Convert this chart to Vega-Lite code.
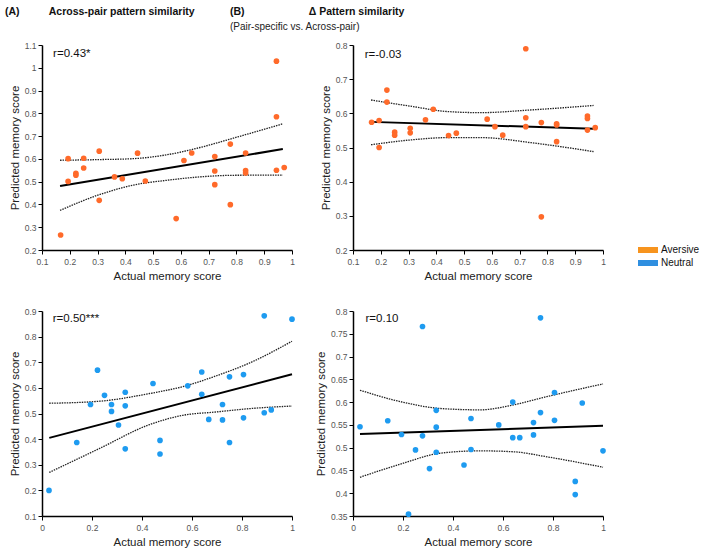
{
  "$schema": "https://vega.github.io/schema/vega-lite/v6.json",
  "padding": {"left": 5, "top": 6, "right": 5, "bottom": 5},
  "autosize": {"type": "pad"},
  "datasets": {
    "pts": [
      {"p":"A1","x":0.167,"y":0.266},{"p":"A1","x":0.194,"y":0.601},{"p":"A1","x":0.194,"y":0.501},{"p":"A1","x":0.222,"y":0.537},{"p":"A1","x":0.222,"y":0.528},{"p":"A1","x":0.25,"y":0.603},{"p":"A1","x":0.25,"y":0.56},{"p":"A1","x":0.306,"y":0.634},{"p":"A1","x":0.306,"y":0.418},{"p":"A1","x":0.361,"y":0.521},{"p":"A1","x":0.389,"y":0.513},{"p":"A1","x":0.444,"y":0.625},{"p":"A1","x":0.472,"y":0.503},{"p":"A1","x":0.583,"y":0.338},{"p":"A1","x":0.611,"y":0.593},{"p":"A1","x":0.639,"y":0.626},{"p":"A1","x":0.722,"y":0.61},{"p":"A1","x":0.722,"y":0.547},{"p":"A1","x":0.722,"y":0.487},{"p":"A1","x":0.778,"y":0.665},{"p":"A1","x":0.778,"y":0.399},{"p":"A1","x":0.833,"y":0.626},{"p":"A1","x":0.833,"y":0.549},{"p":"A1","x":0.833,"y":0.538},{"p":"A1","x":0.944,"y":1.029},{"p":"A1","x":0.944,"y":0.785},{"p":"A1","x":0.944,"y":0.55},{"p":"A1","x":0.972,"y":0.562},
      {"p":"B1","x":0.167,"y":0.574},{"p":"B1","x":0.194,"y":0.579},{"p":"B1","x":0.194,"y":0.5},{"p":"B1","x":0.222,"y":0.668},{"p":"B1","x":0.222,"y":0.633},{"p":"B1","x":0.25,"y":0.545},{"p":"B1","x":0.25,"y":0.536},{"p":"B1","x":0.306,"y":0.556},{"p":"B1","x":0.306,"y":0.543},{"p":"B1","x":0.361,"y":0.581},{"p":"B1","x":0.389,"y":0.612},{"p":"B1","x":0.444,"y":0.535},{"p":"B1","x":0.472,"y":0.542},{"p":"B1","x":0.583,"y":0.583},{"p":"B1","x":0.611,"y":0.561},{"p":"B1","x":0.639,"y":0.536},{"p":"B1","x":0.722,"y":0.789},{"p":"B1","x":0.722,"y":0.587},{"p":"B1","x":0.722,"y":0.561},{"p":"B1","x":0.778,"y":0.573},{"p":"B1","x":0.778,"y":0.297},{"p":"B1","x":0.833,"y":0.566},{"p":"B1","x":0.833,"y":0.569},{"p":"B1","x":0.833,"y":0.517},{"p":"B1","x":0.944,"y":0.592},{"p":"B1","x":0.944,"y":0.585},{"p":"B1","x":0.944,"y":0.551},{"p":"B1","x":0.972,"y":0.558},
      {"p":"A2","x":0.028,"y":0.2},{"p":"A2","x":0.139,"y":0.387},{"p":"A2","x":0.194,"y":0.535},{"p":"A2","x":0.222,"y":0.669},{"p":"A2","x":0.25,"y":0.571},{"p":"A2","x":0.278,"y":0.535},{"p":"A2","x":0.278,"y":0.508},{"p":"A2","x":0.306,"y":0.455},{"p":"A2","x":0.333,"y":0.583},{"p":"A2","x":0.333,"y":0.53},{"p":"A2","x":0.333,"y":0.362},{"p":"A2","x":0.444,"y":0.617},{"p":"A2","x":0.472,"y":0.395},{"p":"A2","x":0.472,"y":0.342},{"p":"A2","x":0.583,"y":0.608},{"p":"A2","x":0.639,"y":0.662},{"p":"A2","x":0.639,"y":0.575},{"p":"A2","x":0.667,"y":0.477},{"p":"A2","x":0.722,"y":0.535},{"p":"A2","x":0.722,"y":0.475},{"p":"A2","x":0.75,"y":0.643},{"p":"A2","x":0.75,"y":0.387},{"p":"A2","x":0.806,"y":0.652},{"p":"A2","x":0.806,"y":0.483},{"p":"A2","x":0.889,"y":0.881},{"p":"A2","x":0.889,"y":0.503},{"p":"A2","x":0.917,"y":0.514},{"p":"A2","x":1.0,"y":0.868},
      {"p":"B2","x":0.028,"y":0.546},{"p":"B2","x":0.139,"y":0.559},{"p":"B2","x":0.194,"y":0.529},{"p":"B2","x":0.222,"y":0.354},{"p":"B2","x":0.25,"y":0.495},{"p":"B2","x":0.278,"y":0.766},{"p":"B2","x":0.278,"y":0.526},{"p":"B2","x":0.306,"y":0.454},{"p":"B2","x":0.333,"y":0.582},{"p":"B2","x":0.333,"y":0.545},{"p":"B2","x":0.333,"y":0.49},{"p":"B2","x":0.444,"y":0.462},{"p":"B2","x":0.472,"y":0.564},{"p":"B2","x":0.472,"y":0.496},{"p":"B2","x":0.583,"y":0.55},{"p":"B2","x":0.639,"y":0.6},{"p":"B2","x":0.639,"y":0.522},{"p":"B2","x":0.667,"y":0.522},{"p":"B2","x":0.722,"y":0.555},{"p":"B2","x":0.722,"y":0.528},{"p":"B2","x":0.75,"y":0.785},{"p":"B2","x":0.75,"y":0.577},{"p":"B2","x":0.806,"y":0.621},{"p":"B2","x":0.806,"y":0.56},{"p":"B2","x":0.889,"y":0.426},{"p":"B2","x":0.889,"y":0.397},{"p":"B2","x":0.917,"y":0.598},{"p":"B2","x":1.0,"y":0.493}
    ],
    "fits": [
      {"p":"A1","k":"fit","x":0.165,"y":0.481},{"p":"A1","k":"fit","x":0.967,"y":0.643},
      {"p":"A1","k":"upper","x":0.165,"y":0.594},{"p":"A1","k":"upper","x":0.309,"y":0.597},{"p":"A1","k":"upper","x":0.429,"y":0.601},{"p":"A1","k":"upper","x":0.549,"y":0.618},{"p":"A1","k":"upper","x":0.669,"y":0.65},{"p":"A1","k":"upper","x":0.789,"y":0.691},{"p":"A1","k":"upper","x":0.967,"y":0.754},
      {"p":"A1","k":"lower","x":0.165,"y":0.374},{"p":"A1","k":"lower","x":0.309,"y":0.444},{"p":"A1","k":"lower","x":0.429,"y":0.485},{"p":"A1","k":"lower","x":0.549,"y":0.506},{"p":"A1","k":"lower","x":0.669,"y":0.521},{"p":"A1","k":"lower","x":0.789,"y":0.528},{"p":"A1","k":"lower","x":0.967,"y":0.529},
      {"p":"B1","k":"fit","x":0.165,"y":0.575},{"p":"B1","k":"fit","x":0.966,"y":0.555},
      {"p":"B1","k":"upper","x":0.165,"y":0.639},{"p":"B1","k":"upper","x":0.306,"y":0.621},{"p":"B1","k":"upper","x":0.444,"y":0.605},{"p":"B1","k":"upper","x":0.56,"y":0.602},{"p":"B1","k":"upper","x":0.742,"y":0.61},{"p":"B1","k":"upper","x":0.966,"y":0.623},
      {"p":"B1","k":"lower","x":0.165,"y":0.508},{"p":"B1","k":"lower","x":0.306,"y":0.522},{"p":"B1","k":"lower","x":0.444,"y":0.529},{"p":"B1","k":"lower","x":0.56,"y":0.529},{"p":"B1","k":"lower","x":0.742,"y":0.514},{"p":"B1","k":"lower","x":0.966,"y":0.488},
      {"p":"A2","k":"fit","x":0.029,"y":0.405},{"p":"A2","k":"fit","x":1.0,"y":0.653},
      {"p":"A2","k":"upper","x":0.029,"y":0.54},{"p":"A2","k":"upper","x":0.231,"y":0.548},{"p":"A2","k":"upper","x":0.431,"y":0.578},{"p":"A2","k":"upper","x":0.564,"y":0.605},{"p":"A2","k":"upper","x":0.697,"y":0.647},{"p":"A2","k":"upper","x":0.83,"y":0.697},{"p":"A2","k":"upper","x":1.0,"y":0.782},
      {"p":"A2","k":"lower","x":0.029,"y":0.27},{"p":"A2","k":"lower","x":0.231,"y":0.364},{"p":"A2","k":"lower","x":0.431,"y":0.457},{"p":"A2","k":"lower","x":0.564,"y":0.493},{"p":"A2","k":"lower","x":0.697,"y":0.506},{"p":"A2","k":"lower","x":0.83,"y":0.519},{"p":"A2","k":"lower","x":1.0,"y":0.529},
      {"p":"B2","k":"fit","x":0.028,"y":0.53},{"p":"B2","k":"fit","x":1.0,"y":0.548},
      {"p":"B2","k":"upper","x":0.028,"y":0.626},{"p":"B2","k":"upper","x":0.19,"y":0.601},{"p":"B2","k":"upper","x":0.35,"y":0.586},{"p":"B2","k":"upper","x":0.509,"y":0.583},{"p":"B2","k":"upper","x":0.642,"y":0.594},{"p":"B2","k":"upper","x":0.775,"y":0.612},{"p":"B2","k":"upper","x":1.0,"y":0.64},
      {"p":"B2","k":"lower","x":0.028,"y":0.435},{"p":"B2","k":"lower","x":0.19,"y":0.464},{"p":"B2","k":"lower","x":0.35,"y":0.488},{"p":"B2","k":"lower","x":0.509,"y":0.493},{"p":"B2","k":"lower","x":0.642,"y":0.491},{"p":"B2","k":"lower","x":0.775,"y":0.48},{"p":"B2","k":"lower","x":1.0,"y":0.457}
    ],
    "labels": [
      {"p":"A1","x":0.14,"y":1.06,"t":"r=0.43*"},
      {"p":"B1","x":0.142,"y":0.77,"t":"r=-0.03"},
      {"p":"A2","x":0.043,"y":0.87,"t":"r=0.50***"},
      {"p":"B2","x":0.05,"y":0.782,"t":"r=0.10"}
    ],
    "legend": [
      {"c":"Aversive","x":0.5,"y":0.5},
      {"c":"Neutral","x":0.5,"y":0.5}
    ]
  },
  "spacing": 25,
  "vconcat": [
    {
      "spacing": 61,
      "bounds": "flush",
      "hconcat": [
        {
          "width": 250, "height": 205,
          "title": {"text": "(A)\u00a0\u00a0\u00a0\u00a0\u00a0\u00a0\u00a0\u00a0\u00a0\u00a0Across-pair pattern similarity", "anchor": "start", "frame": "group", "dx": -37, "offset": 24, "fontSize": 10.5, "fontWeight": "bold", "color": "#111"},
          "encoding": {
            "x": {"field": "x", "type": "quantitative", "scale": {"domain": [0.1, 1], "nice": false, "zero": false}, "axis": {"title": "Actual memory score", "values": [0.1,0.2,0.3,0.4,0.5,0.6,0.7,0.8,0.9,1], "format": "~g"}},
            "y": {"field": "y", "type": "quantitative", "scale": {"domain": [0.2, 1.1], "nice": false, "zero": false}, "axis": {"title": "Predicted memory score", "values": [0.2,0.3,0.4,0.5,0.6,0.7,0.8,0.9,1,1.1], "format": "~g"}}
          },
          "layer": [
            {"data": {"name": "fits"}, "transform": [{"filter": "datum.p=='A1' && datum.k!='fit'"}], "mark": {"type": "line", "color": "#222", "strokeWidth": 1.3, "strokeDash": [1.5, 1], "interpolate": "monotone"}, "encoding": {"detail": {"field": "k"}}},
            {"data": {"name": "fits"}, "transform": [{"filter": "datum.p=='A1' && datum.k=='fit'"}], "mark": {"type": "line", "color": "#000", "strokeWidth": 2}, "encoding": {}},
            {"data": {"name": "pts"}, "transform": [{"filter": "datum.p=='A1'"}], "mark": {"type": "circle", "size": 32, "opacity": 1, "color": "#FF6A2A"}},
            {"data": {"name": "labels"}, "transform": [{"filter": "datum.p=='A1'"}], "mark": {"type": "text", "align": "left", "baseline": "middle", "fontSize": 11.5, "color": "#111"}, "encoding": {"text": {"field": "t"}}}
          ]
        },
        {
          "width": 250, "height": 205,
          "title": {"text": "(B)\u00a0\u00a0\u00a0\u00a0\u00a0\u00a0\u00a0\u00a0\u00a0\u00a0\u00a0\u00a0\u00a0\u00a0\u00a0\u00a0\u00a0\u00a0\u00a0\u00a0\u00a0\u00a0Δ Pattern similarity", "subtitle": "\u00a0\u00a0\u00a0\u00a0\u00a0\u00a0\u00a0\u00a0\u00a0\u00a0\u00a0\u00a0\u00a0\u00a0\u00a0\u00a0\u00a0\u00a0\u00a0\u00a0\u00a0(Pair-specific vs. Across-pair)", "anchor": "start", "frame": "group", "dx": -123, "offset": 9, "fontSize": 10.5, "fontWeight": "bold", "color": "#111", "subtitleFontSize": 10, "subtitleColor": "#222", "subtitlePadding": 5},
          "encoding": {
            "x": {"field": "x", "type": "quantitative", "scale": {"domain": [0.1, 1], "nice": false, "zero": false}, "axis": {"title": "Actual memory score", "values": [0.1,0.2,0.3,0.4,0.5,0.6,0.7,0.8,0.9,1], "format": "~g"}},
            "y": {"field": "y", "type": "quantitative", "scale": {"domain": [0.2, 0.8], "nice": false, "zero": false}, "axis": {"title": "Predicted memory score", "values": [0.2,0.3,0.4,0.5,0.6,0.7,0.8], "format": "~g"}}
          },
          "layer": [
            {"data": {"name": "fits"}, "transform": [{"filter": "datum.p=='B1' && datum.k!='fit'"}], "mark": {"type": "line", "color": "#222", "strokeWidth": 1.3, "strokeDash": [1.5, 1], "interpolate": "monotone"}, "encoding": {"detail": {"field": "k"}}},
            {"data": {"name": "fits"}, "transform": [{"filter": "datum.p=='B1' && datum.k=='fit'"}], "mark": {"type": "line", "color": "#000", "strokeWidth": 2}, "encoding": {}},
            {"data": {"name": "pts"}, "transform": [{"filter": "datum.p=='B1'"}], "mark": {"type": "circle", "size": 32, "opacity": 1, "color": "#FF6A2A"}},
            {"data": {"name": "labels"}, "transform": [{"filter": "datum.p=='B1'"}], "mark": {"type": "text", "align": "left", "baseline": "middle", "fontSize": 11.5, "color": "#111"}, "encoding": {"text": {"field": "t"}}},
            {"data": {"name": "legend"}, "mark": {"type": "point", "filled": true, "opacity": 0}, "encoding": {"color": {"field": "c", "type": "nominal", "scale": {"domain": ["Aversive", "Neutral"], "range": ["#F7941E", "#2F8FE0"]}, "legend": {"title": null, "orient": "none", "legendX": 601, "legendY": 200, "symbolType": "M-2,-0.6H2V0.6H-2Z", "symbolSize": 100, "symbolOpacity": 1, "symbolStrokeWidth": 0, "labelFontSize": 10, "labelColor": "#111", "labelOffset": 8, "rowPadding": 3}}}}
          ]
        }
      ]
    },
    {
      "spacing": 61,
      "bounds": "flush",
      "hconcat": [
        {
          "width": 250, "height": 205,
          "encoding": {
            "x": {"field": "x", "type": "quantitative", "scale": {"domain": [0, 1], "nice": false, "zero": false}, "axis": {"title": "Actual memory score", "values": [0,0.2,0.4,0.6,0.8,1], "format": "~g"}},
            "y": {"field": "y", "type": "quantitative", "scale": {"domain": [0.1, 0.9], "nice": false, "zero": false}, "axis": {"title": "Predicted memory score", "values": [0.1,0.2,0.3,0.4,0.5,0.6,0.7,0.8,0.9], "format": "~g"}}
          },
          "layer": [
            {"data": {"name": "fits"}, "transform": [{"filter": "datum.p=='A2' && datum.k!='fit'"}], "mark": {"type": "line", "color": "#222", "strokeWidth": 1.3, "strokeDash": [1.5, 1], "interpolate": "monotone"}, "encoding": {"detail": {"field": "k"}}},
            {"data": {"name": "fits"}, "transform": [{"filter": "datum.p=='A2' && datum.k=='fit'"}], "mark": {"type": "line", "color": "#000", "strokeWidth": 2}, "encoding": {}},
            {"data": {"name": "pts"}, "transform": [{"filter": "datum.p=='A2'"}], "mark": {"type": "circle", "size": 32, "opacity": 1, "color": "#1E9BF0"}},
            {"data": {"name": "labels"}, "transform": [{"filter": "datum.p=='A2'"}], "mark": {"type": "text", "align": "left", "baseline": "middle", "fontSize": 11.5, "color": "#111"}, "encoding": {"text": {"field": "t"}}}
          ]
        },
        {
          "width": 250, "height": 205,
          "encoding": {
            "x": {"field": "x", "type": "quantitative", "scale": {"domain": [0, 1], "nice": false, "zero": false}, "axis": {"title": "Actual memory score", "values": [0,0.2,0.4,0.6,0.8,1], "format": "~g"}},
            "y": {"field": "y", "type": "quantitative", "scale": {"domain": [0.35, 0.8], "nice": false, "zero": false}, "axis": {"title": "Predicted memory score", "values": [0.35,0.4,0.45,0.5,0.55,0.6,0.65,0.7,0.75,0.8], "format": "~g"}}
          },
          "layer": [
            {"data": {"name": "fits"}, "transform": [{"filter": "datum.p=='B2' && datum.k!='fit'"}], "mark": {"type": "line", "color": "#222", "strokeWidth": 1.3, "strokeDash": [1.5, 1], "interpolate": "monotone"}, "encoding": {"detail": {"field": "k"}}},
            {"data": {"name": "fits"}, "transform": [{"filter": "datum.p=='B2' && datum.k=='fit'"}], "mark": {"type": "line", "color": "#000", "strokeWidth": 2}, "encoding": {}},
            {"data": {"name": "pts"}, "transform": [{"filter": "datum.p=='B2'"}], "mark": {"type": "circle", "size": 32, "opacity": 1, "color": "#1E9BF0"}},
            {"data": {"name": "labels"}, "transform": [{"filter": "datum.p=='B2'"}], "mark": {"type": "text", "align": "left", "baseline": "middle", "fontSize": 11.5, "color": "#111"}, "encoding": {"text": {"field": "t"}}}
          ]
        }
      ]
    }
  ],
  "config": {
    "font": "Liberation Sans",
    "view": {"stroke": null},
    "axis": {"grid": false, "domainColor": "#000", "domainWidth": 1.5, "tickColor": "#000", "tickSize": 4, "labelFontSize": 8.5, "labelColor": "#555", "labelFlush": false, "titleFontSize": 11.5, "titleFontWeight": "normal", "titleColor": "#222"},
    "axisX": {"titlePadding": 5, "labelPadding": 3},
    "axisY": {"titlePadding": 4}
  }
}
